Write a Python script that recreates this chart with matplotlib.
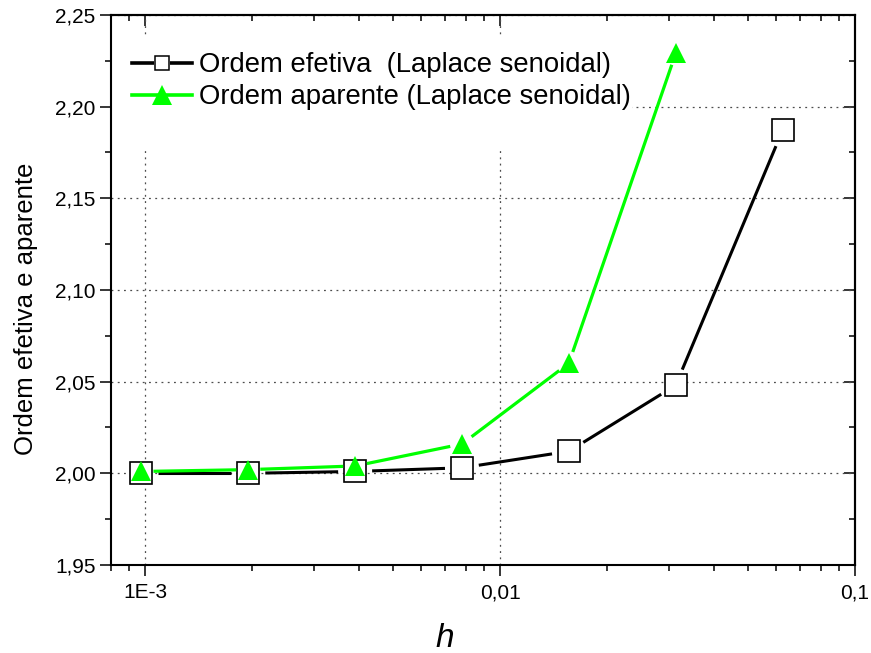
import numpy as np
import matplotlib
matplotlib.use('Agg')
from matplotlib import pyplot as plt
from matplotlib.lines import Line2D
from matplotlib.legend_handler import HandlerTuple
from matplotlib.patches import Rectangle
from matplotlib.ticker import LogLocator, MultipleLocator, NullFormatter

plt.rcParams['font.family'] = ['Liberation Sans', 'DejaVu Sans']

# passo h = 1/1024 ... 1/16
h_ef = [1/1024, 1/512, 1/256, 1/128, 1/64, 1/32, 1/16]
ordem_ef = [2.000, 2.000, 2.001, 2.003, 2.012, 2.048, 2.187]

h_ap = [1/1024, 1/512, 1/256, 1/128, 1/64, 1/32]
ordem_ap = [2.001, 2.002, 2.004, 2.016, 2.060, 2.229]

xticks = [1e-3, 1e-2, 1e-1]
xlabels = ['1E-3', '0,01', '0,1']
yticks = [1.95, 2.00, 2.05, 2.10, 2.15, 2.20, 2.25]
ylabels = ['1,95', '2,00', '2,05', '2,10', '2,15', '2,20', '2,25']

verde = '#00ff00'

fig = plt.figure(figsize=(8.71, 6.53), dpi=100)
ax = fig.add_axes([0.1271, 0.1348, 0.8545, 0.8423])
ax.set_xscale('log')
ax.set_xlim(8e-4, 0.1)
ax.set_ylim(1.95, 2.25)

ax.set_xticks(xticks, xlabels)
ax.xaxis.set_minor_locator(LogLocator(base=10, subs=np.arange(2, 10)))
ax.xaxis.set_minor_formatter(NullFormatter())
ax.set_yticks(yticks, ylabels)
ax.yaxis.set_minor_locator(MultipleLocator(0.025))

ax.tick_params(which='both', direction='out', width=1.1, labelsize=15)
ax.tick_params(which='major', length=8)
ax.tick_params(which='minor', length=4)
ax.tick_params(axis='x', which='major', pad=5)
ax.tick_params(axis='y', which='major', pad=3)
for s in ax.spines.values():
    s.set_linewidth(1.5)

# eixos de cima e da direita com ticks para dentro
top = ax.secondary_xaxis('top')
top.set_xticks(xticks)
top.xaxis.set_minor_locator(LogLocator(base=10, subs=np.arange(2, 10)))
top.xaxis.set_minor_formatter(NullFormatter())
top.tick_params(which='both', direction='in', width=1.1, labelbottom=False, labeltop=False)
top.tick_params(which='major', length=8)
top.tick_params(which='minor', length=4)
top.spines['top'].set_linewidth(1.5)

right = ax.secondary_yaxis('right')
right.set_yticks(yticks)
right.yaxis.set_minor_locator(MultipleLocator(0.025))
right.tick_params(which='both', direction='in', width=1.1, labelleft=False, labelright=False)
right.tick_params(which='major', length=8)
right.tick_params(which='minor', length=4)
right.spines['right'].set_linewidth(1.5)

ax.grid(True, which='major', linestyle=(0, (1.5, 3.5)), linewidth=0.9, color='0.3', zorder=0)
ax.set_axisbelow(True)

# fundo branco da legenda
ax.add_patch(Rectangle((0.002, 0.7545), 0.698, 0.209, transform=ax.transAxes,
                       facecolor='white', edgecolor='none', zorder=1))


def linha_com_falha(ax, xs, ys, gap, **kw):
    # liga os pontos deixando um espaco (em pixels) em volta de cada simbolo
    pts = ax.transData.transform(np.column_stack([xs, ys]))
    inv = ax.transData.inverted()
    for p0, p1 in zip(pts[:-1], pts[1:]):
        d = p1 - p0
        L = np.hypot(d[0], d[1])
        if L <= 2 * gap:
            continue
        u = d / L
        seg = inv.transform(np.array([p0 + u * gap, p1 - u * gap]))
        ax.plot(seg[:, 0], seg[:, 1], **kw)


linha_com_falha(ax, h_ef, ordem_ef, 17, color='black', lw=2.2, solid_capstyle='butt', zorder=3)
ax.plot(h_ef, ordem_ef, linestyle='none', marker='s', ms=15.5, mfc='white', mec='black',
        mew=1.2, zorder=4)
linha_com_falha(ax, h_ap, ordem_ap, 12, color=verde, lw=2.3, solid_capstyle='butt', zorder=5)
ax.plot(h_ap, ordem_ap, linestyle='none', marker='^', ms=14, mfc=verde, mec=verde,
        mew=0, zorder=6)

ax.set_ylabel('Ordem efetiva e aparente', fontsize=18.5, va='center')
ax.yaxis.set_label_coords(-0.1135, 0.4655)
ax.set_xlabel('h', fontsize=24, style='italic', va='center')
ax.xaxis.set_label_coords(0.449, -0.133)

h1 = (Line2D([], [], color='black', lw=2.6),
      Line2D([], [], ls='none', marker='s', ms=12, mfc='white', mec='white', mew=0),
      Line2D([], [], ls='none', marker='s', ms=9.5, mfc='white', mec='black', mew=1.1))
h2 = (Line2D([], [], color=verde, lw=2.6),
      Line2D([], [], ls='none', marker='^', ms=14, mfc=verde, mec=verde, mew=0))
leg = ax.legend([h1, h2],
                ['Ordem efetiva  (Laplace senoidal)', 'Ordem aparente (Laplace senoidal)'],
                handler_map={tuple: HandlerTuple(ndivide=1)},
                loc='upper left', bbox_to_anchor=(0.0286, 0.932), frameon=False,
                fontsize=19.8, borderpad=0, borderaxespad=0, handlelength=2.2,
                handletextpad=0.25, labelspacing=0.22)
leg.set_zorder(10)

fig.savefig('out.png', dpi=100)
